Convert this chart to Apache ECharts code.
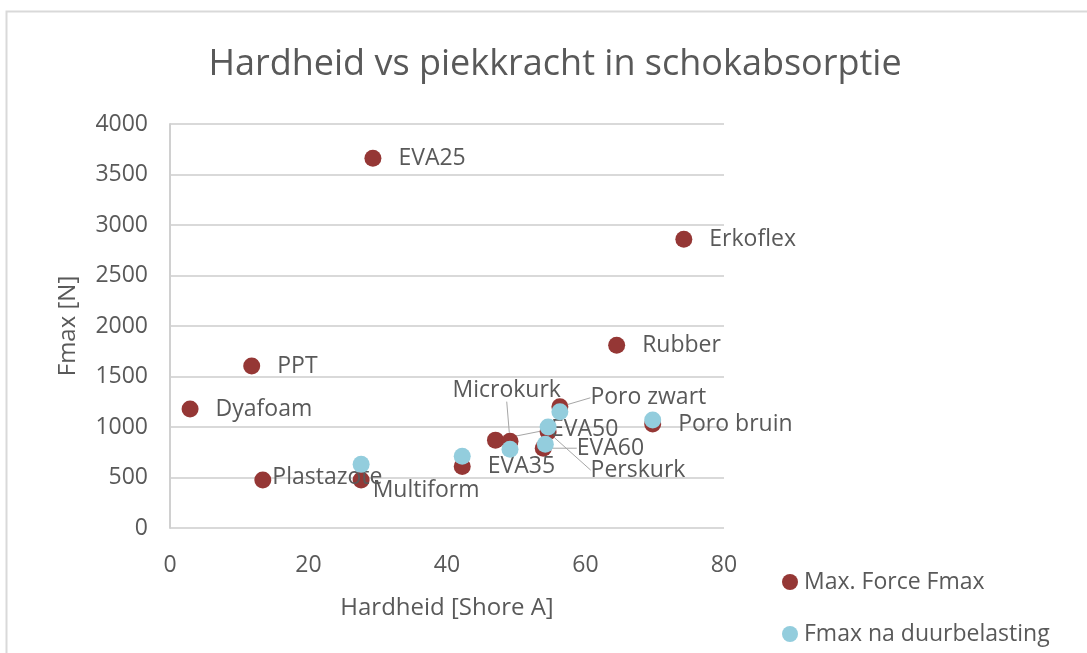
<!DOCTYPE html>
<html><head><meta charset="utf-8">
<script src="https://cdn.jsdelivr.net/npm/echarts@6/dist/echarts.min.js"></script>
<style>html,body{margin:0;padding:0;background:#fff}#c{width:1087px;height:653px}</style>
</head><body><div id="c"></div>
<script>
const names = ['Dyafoam','PPT','Plastazote','Multiform','EVA25','EVA35','EVA50','Microkurk','EVA60','Perskurk','Poro zwart','Rubber','Poro bruin','Erkoflex'];
const hardness = [2.9, 11.8, 13.4, 27.6, 29.3, 42.2, 47.0, 49.1, 53.9, 54.6, 56.3, 64.5, 69.7, 74.2];
const fmax = [1178, 1604, 475, 475, 3660, 610, 870, 860, 790, 950, 1200, 1810, 1030, 2860];
const namesDur = ['Multiform','EVA35','Microkurk','EVA60','Perskurk','Poro zwart','Poro bruin'];
const hardnessDur = [27.6, 42.2, 49.1, 54.2, 54.6, 56.3, 69.7];
const fmaxDur = [630, 710, 780, 830, 1000, 1150, 1070];
const xTicks = [0, 20, 40, 60, 80];
const yTicks = [0, 500, 1000, 1500, 2000, 2500, 3000, 3500, 4000];

const FONT = '"Open Sans", sans-serif';
const TXT = '#595959';
// label nudges (px) relative to the default right-hand label
const labelPos = {
  'Plastazote': {dx: -16, dy: -3},
  'Multiform': {dx: -14, dy: 10},
  'Microkurk': {dx: -83, dy: -51, line: true},
  'EVA50': {dx: 30, dy: -11, line: true},
  'EVA60': {dx: 8, dy: 0, line: true},
  'Perskurk': {dx: 17, dy: 38, line: true},
  'Poro zwart': {dx: 5, dy: -9, line: true}
};
const redData = names.map((n, i) => {
  const p = labelPos[n];
  const d = {value: [hardness[i], fmax[i]], name: n};
  if (p && p.line) d.labelLine = {show: true};
  return d;
});
const blueData = namesDur.map((n, i) => ({value: [hardnessDur[i], fmaxDur[i]], name: n}));

const chart = echarts.init(document.getElementById('c'));
chart.setOption({
  backgroundColor: '#fff',
  animation: false,
  title: {text: 'Hardheid vs piekkracht in schokabsorptie', left: 550, top: 42, textAlign: 'center',
    textStyle: {fontFamily: FONT, fontSize: 36, fontWeight: 'normal', color: TXT}},
  graphic: [{type: 'rect', shape: {x: 6.5, y: 11.5, width: 1200, height: 800},
    style: {fill: 'none', stroke: '#d9d9d9', lineWidth: 2}, silent: true, z: -1}],
  grid: {left: 170, top: 124, width: 554, height: 404, containLabel: false},
  legend: {orient: 'vertical', left: 782, top: 570, height: 80, padding: 0, itemGap: 28, itemWidth: 16, itemHeight: 16,
    icon: 'circle', textStyle: {fontFamily: FONT, fontSize: 23, lineHeight: 24, color: TXT, padding: [0, 0, 0, 1]},
    data: ['Max. Force Fmax', 'Fmax na duurbelasting']},
  xAxis: {type: 'value', min: xTicks[0], max: xTicks[xTicks.length - 1], interval: 20,
    name: 'Hardheid [Shore A]', nameLocation: 'middle', nameGap: 68,
    nameTextStyle: {fontFamily: FONT, fontSize: 24, color: TXT},
    axisLine: {show: false}, axisTick: {show: false},
    axisLabel: {fontFamily: FONT, fontSize: 23, color: TXT, margin: 26},
    splitLine: {show: false}},
  yAxis: {type: 'value', min: yTicks[0], max: yTicks[yTicks.length - 1], interval: 500,
    name: 'Fmax [N]', nameLocation: 'middle', nameGap: 90, nameRotate: 90,
    nameTextStyle: {fontFamily: FONT, fontSize: 24, color: TXT},
    axisLine: {show: true, lineStyle: {color: '#d0d0d0', width: 2}}, axisTick: {show: false},
    axisLabel: {fontFamily: FONT, fontSize: 23, color: TXT, margin: 22, formatter: v => String(v)},
    splitLine: {show: true, lineStyle: {color: '#d9d9d9', width: 2}}},
  series: [
    {name: 'Max. Force Fmax', type: 'scatter', symbolSize: 17, itemStyle: {color: '#953735', opacity: 1},
      data: redData, z: 2,
      label: {show: true, position: 'right', distance: 17, formatter: p => p.name,
        fontFamily: FONT, fontSize: 23, color: TXT},
      labelLine: {show: false, lineStyle: {color: '#a6a6a6', width: 1}},
      labelLayout: function (params) {
        const p = labelPos[names[params.dataIndex]];
        if (!p) return {};
        return {dx: p.dx, dy: p.dy};
      }},
    {name: 'Fmax na duurbelasting', type: 'scatter', symbolSize: 17, itemStyle: {color: '#93cddd', opacity: 1},
      data: blueData, z: 3}
  ]
});
</script></body></html>
